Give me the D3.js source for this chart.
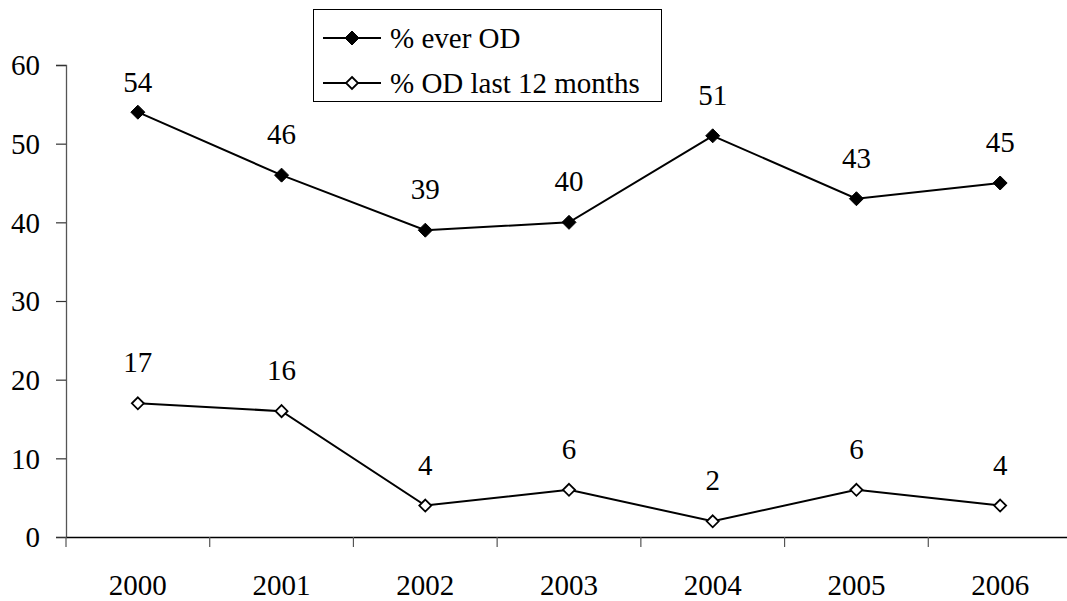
<!DOCTYPE html>
<html>
<head>
<meta charset="utf-8">
<script src="https://cdn.jsdelivr.net/npm/d3@7"></script>
<style>
  html, body { margin: 0; padding: 0; background: #fff; }
</style>
</head>
<body>
<svg id="chart" width="1067" height="601"></svg>
<script>
// Overdose survey results, 2000–2006
const years = ["2000", "2001", "2002", "2003", "2004", "2005", "2006"];
const everOD = [54, 46, 39, 40, 51, 43, 45];
const lastYearOD = [17, 16, 4, 6, 2, 6, 4];
const seriesNames = ["% ever OD", "% OD last 12 months"];
const yTicks = [0, 10, 20, 30, 40, 50, 60];

const FONT = "Liberation Serif";
const FS = 29;

const svg = d3.select("#chart");
const margin = { left: 66, right: 1072, top: 65, bottom: 537 };

const x = d3.scaleBand().domain(years).range([margin.left, margin.right]);
const y = d3.scaleLinear().domain([0, 60]).range([margin.bottom, margin.top]);

function styleText(sel) {
  sel.attr("font-family", FONT)
     .attr("font-size", FS)
     .attr("fill", "#000");
}

// Y axis
const yAxis = svg.append("g")
  .attr("transform", `translate(${margin.left},0)`)
  .call(d3.axisLeft(y).tickValues(yTicks).tickSize(10).tickPadding(16));
yAxis.attr("font-family", FONT).attr("font-size", FS);
yAxis.select(".domain").attr("stroke", "#555").attr("stroke-width", 1.3);
yAxis.selectAll(".tick line").attr("stroke", "#333").attr("stroke-width", 1.2);
yAxis.selectAll(".tick text").call(styleText).attr("dy", "0.34em");

// X axis
const xAxis = svg.append("g")
  .attr("transform", `translate(0,${margin.bottom})`)
  .call(d3.axisBottom(x).tickSize(0).tickPadding(58));
xAxis.attr("font-family", FONT).attr("font-size", FS);
xAxis.select(".domain").attr("stroke", "#000").attr("stroke-width", 1.6);
xAxis.selectAll(".tick text").call(styleText).attr("dy", "0");

// Category separators on the x axis
const boundaries = years.map(d => x(d)).concat([margin.right]);
svg.append("g").selectAll("line").data(boundaries).join("line")
  .attr("x1", d => d).attr("x2", d => d)
  .attr("y1", margin.bottom).attr("y2", margin.bottom + 10)
  .attr("stroke", "#555").attr("stroke-width", 1.2);

const cx = d => x(d) + x.bandwidth() / 2;
const diamond = (px, py, r) => `M${px},${py - r}L${px + r},${py}L${px},${py + r}L${px - r},${py}Z`;

function drawSeries(values, filled) {
  const g = svg.append("g");
  const line = d3.line().x((v, i) => cx(years[i])).y(v => y(v));
  g.append("path").datum(values)
    .attr("d", line).attr("fill", "none")
    .attr("stroke", "#000").attr("stroke-width", 2);
  g.selectAll("path.mk").data(values).join("path")
    .attr("class", "mk")
    .attr("d", (v, i) => diamond(cx(years[i]), y(v), filled ? 7 : 6))
    .attr("fill", filled ? "#000" : "#fff")
    .attr("stroke", "#000").attr("stroke-width", filled ? 1 : 1.8);
  g.selectAll("text").data(values).join("text")
    .attr("x", (v, i) => cx(years[i]))
    .attr("y", v => Math.max(y(v) - 31, 92))
    .attr("text-anchor", "middle")
    .call(styleText)
    .text(v => v);
}
drawSeries(everOD, true);
drawSeries(lastYearOD, false);

// Legend
const legend = svg.append("g");
legend.append("rect")
  .attr("x", 313.5).attr("y", 9.5).attr("width", 348).attr("height", 92)
  .attr("fill", "#fff").attr("stroke", "#000").attr("stroke-width", 1);
seriesNames.forEach((name, i) => {
  const ly = 38 + i * 45;
  legend.append("line")
    .attr("x1", 323).attr("x2", 381).attr("y1", ly).attr("y2", ly)
    .attr("stroke", "#000").attr("stroke-width", 2);
  legend.append("path")
    .attr("d", diamond(352, ly, i === 0 ? 7 : 6))
    .attr("fill", i === 0 ? "#000" : "#fff")
    .attr("stroke", "#000").attr("stroke-width", i === 0 ? 1 : 1.8);
  legend.append("text")
    .attr("x", 390).attr("y", ly).attr("dy", "0.34em")
    .call(styleText)
    .text(name);
});
</script>
</body>
</html>
